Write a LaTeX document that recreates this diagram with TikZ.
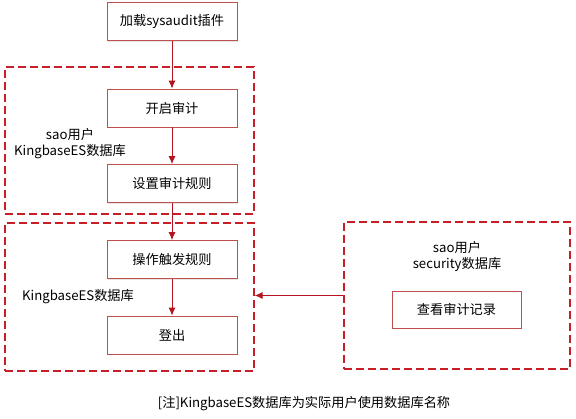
\documentclass[tikz,border=0pt]{standalone}
\usepackage{fontspec}
\setmainfont{Noto Sans CJK SC}
\usetikzlibrary{positioning,shadows,arrows.meta}

\definecolor{boxred}{RGB}{192,80,77}
\definecolor{linered}{RGB}{200,30,40}
\definecolor{arrowred}{RGB}{180,20,30}

\tikzstyle{block} = [rectangle, draw=boxred, fill=white, text centered, minimum width=130pt, minimum height=38pt, line width=0.8pt, drop shadow={opacity=0.2, shadow xshift=1.2pt, shadow yshift=-1.2pt}]
\tikzstyle{group} = [rectangle, draw=linered, dash pattern=on 8pt off 4pt, line width=1.2pt]
\tikzstyle{label} = [align=center, inner sep=0pt]
\tikzstyle{arrow} = [draw=arrowred, line width=0.9pt, -{Latex[length=8pt,width=7pt]}]

\begin{document}
\begin{tikzpicture}[x=1pt, y=-1pt, node distance=75.5pt, font=\fontsize{13.2pt}{16pt}\selectfont]
    \useasboundingbox (0,0) rectangle (576,419);

    % dashed groups
    \node[group, minimum width=249pt, minimum height=147pt] (groupA) at (129.5,140.5) {};
    \node[group, minimum width=249pt, minimum height=148pt] (groupB) at (129.5,297) {};
    \node[group, minimum width=226pt, minimum height=147pt] (groupC) at (457,295.5) {};

    % steps
    \node[block] (load) at (172,21.5) {加载sysaudit插件};
    \node[block, below of=load, node distance=86.5pt] (enable) {开启审计};
    \node[block, below of=enable] (rules) {设置审计规则};
    \node[block, below of=rules, node distance=76pt] (trigger) {操作触发规则};
    \node[block, below of=trigger] (logout) {登出};
    \node[block, minimum width=129pt, minimum height=37pt] (view) at (456.5,309.5) {查看审计记录};

    % labels
    \node[label] (userA) at (70,144) {sao用户\\KingbaseES数据库};
    \node[label] (userB) at (78,297) {KingbaseES数据库};
    \node[label] (userC) at (457,256.5) {sao用户\\security数据库};
    \node[label] (note) at (304,404) {[注]KingbaseES数据库为实际用户使用数据库名称};

    % lines
    \draw [arrow] (load.south) to (enable.north);
    \draw [arrow] (enable.south) to (rules.north);
    \draw [arrow] (rules.south) to (trigger.north);
    \draw [arrow] (trigger.south) to (logout.north);
    \draw [arrow] (groupC.west) to (groupC.west -| groupB.east);
\end{tikzpicture}
\end{document}
